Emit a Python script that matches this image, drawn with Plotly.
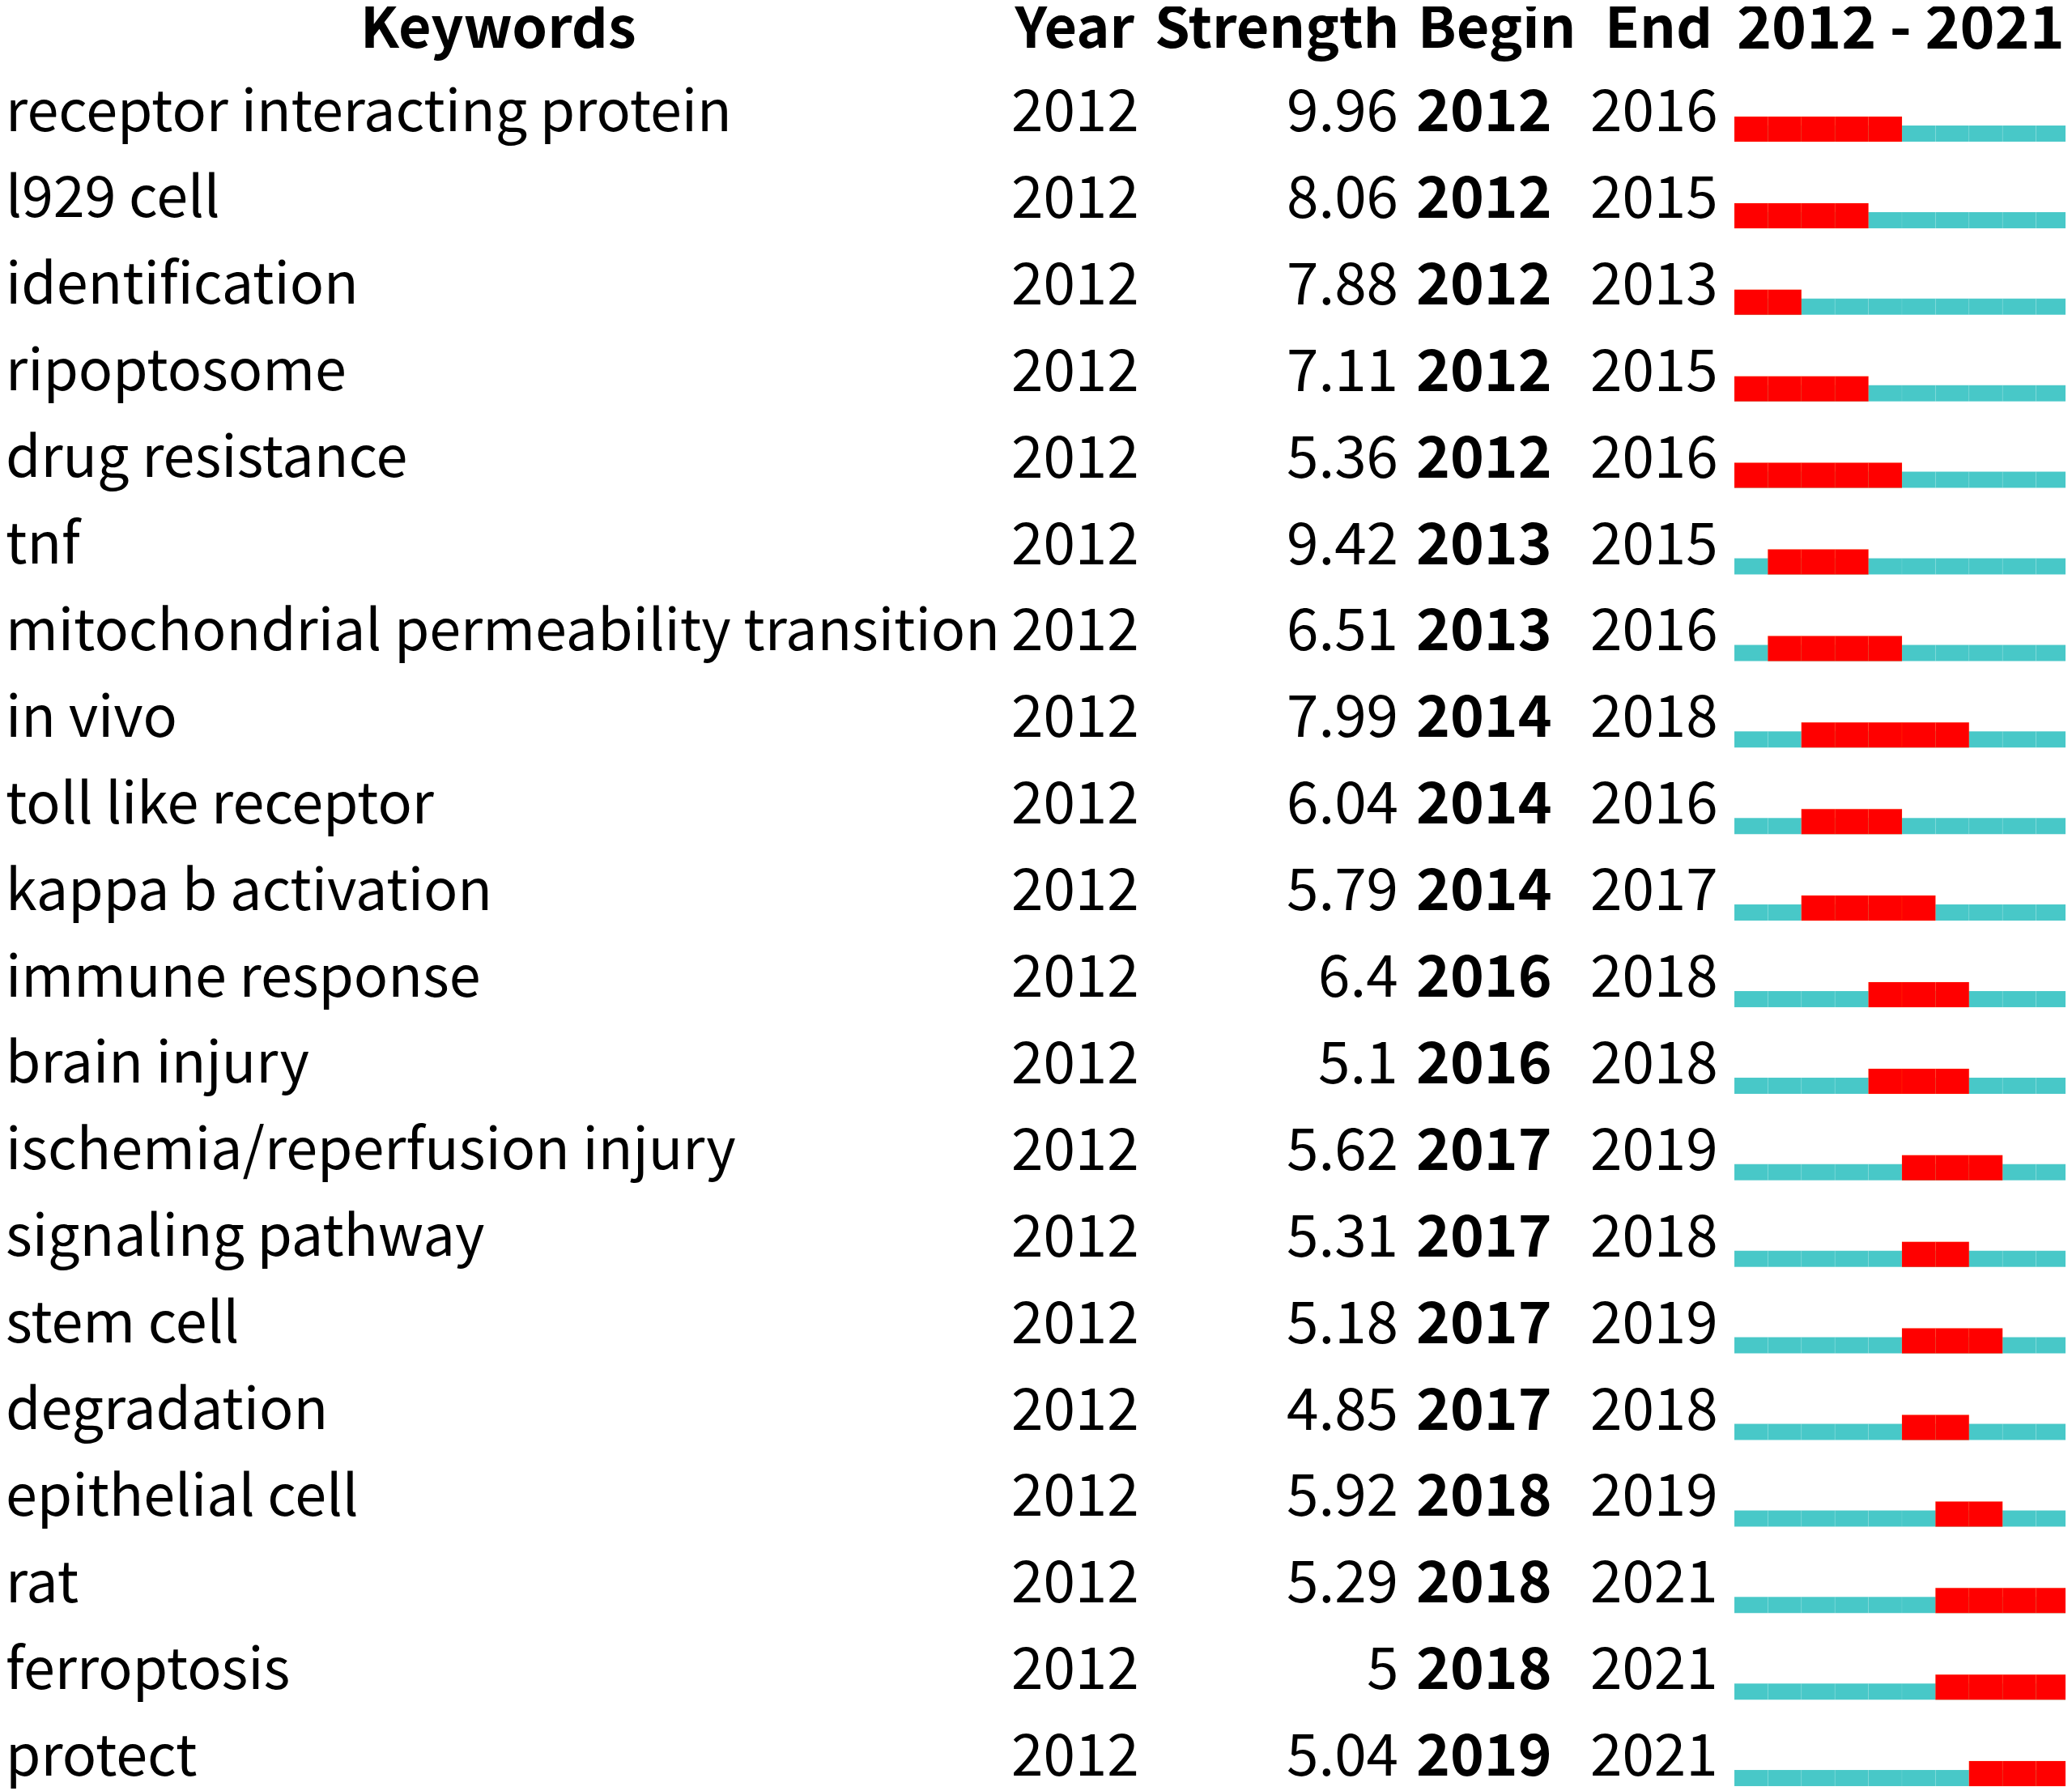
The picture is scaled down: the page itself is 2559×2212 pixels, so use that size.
import plotly.graph_objects as go

keywords = ["receptor interacting protein", "l929 cell", "identification", "ripoptosome",
            "drug resistance", "tnf", "mitochondrial permeability transition", "in vivo",
            "toll like receptor", "kappa b activation", "immune response", "brain injury",
            "ischemia/reperfusion injury", "signaling pathway", "stem cell", "degradation",
            "epithelial cell", "rat", "ferroptosis", "protect"]
year = [2012] * 20
strength = [9.96, 8.06, 7.88, 7.11, 5.36, 9.42, 6.51, 7.99, 6.04, 5.79,
            6.4, 5.1, 5.62, 5.31, 5.18, 4.85, 5.92, 5.29, 5, 5.04]
begin = [2012, 2012, 2012, 2012, 2012, 2013, 2013, 2014, 2014, 2014,
         2016, 2016, 2017, 2017, 2017, 2017, 2018, 2018, 2018, 2019]
end = [2016, 2015, 2013, 2015, 2016, 2015, 2016, 2018, 2016, 2017,
       2018, 2018, 2019, 2018, 2019, 2018, 2019, 2021, 2021, 2021]
first_year, last_year = 2012, 2021

# page has an 8px body margin, so the figure is a bit smaller and shifted
W, H = 2551, 2204
FONT = "Noto Sans CJK SC"
rows = list(range(len(keywords)))
row_h = 106.9
top = 130  # centre of first row, px from figure top

# one cell per year, like the CiteSpace burst strip
teal_y, teal_base = [], []
red_y, red_base = [], []
for i in rows:
    for yr in range(first_year, last_year + 1):
        teal_y.append(i)
        teal_base.append(yr)
        if begin[i] <= yr <= end[i]:
            red_y.append(i)
            red_base.append(yr)

fig = go.Figure()
fig.add_trace(go.Bar(y=teal_y, x=[1] * len(teal_y), base=teal_base, orientation="h",
                     width=0.187, offset=0.159,
                     marker=dict(color="#48C8C8", line=dict(color="rgba(255,255,255,0.08)", width=1)),
                     hoverinfo="skip"))
fig.add_trace(go.Bar(y=red_y, x=[1] * len(red_y), base=red_base, orientation="h",
                     width=0.29, offset=0.056,
                     marker=dict(color="#FF0000", line=dict(color="rgba(255,120,0,0.15)", width=1)),
                     hoverinfo="skip"))

def px(x):
    return x / W

ann = []
hdr_y = -0.96
for txt, x, anchor, fs in [("Keywords", 607, "center", 70), ("Year", 1242, "left", 70),
                           ("Strength", 1722, "right", 70), ("Begin", 1741, "left", 70),
                           ("End", 1972, "left", 70),
                           ("%d - %d" % (first_year, last_year), 2339, "center", 73)]:
    ann.append(dict(text="<b>%s</b>" % txt, x=px(x), xref="paper", y=hdr_y, yref="y",
                    xanchor=anchor, yanchor="middle", yshift=7, showarrow=False,
                    font=dict(size=fs)))

for i in rows:
    cells = [(keywords[i], -3, "left", 70),
             (str(year[i]), 1239, "left", 71),
             ("%g" % strength[i], 1721, "right", 71),
             ("<b>%d</b>" % begin[i], 1739, "left", 71),
             (str(end[i]), 1954, "left", 71)]
    for txt, x, anchor, fs in cells:
        ann.append(dict(text=txt, x=px(x), xref="paper", y=i, yref="y",
                        xanchor=anchor, yanchor="middle", yshift=7, showarrow=False,
                        font=dict(size=fs)))

fig.update_layout(
    width=W, height=H,
    margin=dict(l=0, r=0, t=0, b=0),
    paper_bgcolor="white", plot_bgcolor="white",
    barmode="overlay", showlegend=False,
    font=dict(family=FONT, size=71, color="black"),
    annotations=ann,
    xaxis=dict(domain=[2134 / W, 2548 / W], range=[first_year, last_year + 1],
               visible=False, fixedrange=True),
    yaxis=dict(range=[(H - top) / row_h, -top / row_h], visible=False, fixedrange=True),
)

fig.write_html("out.html")
